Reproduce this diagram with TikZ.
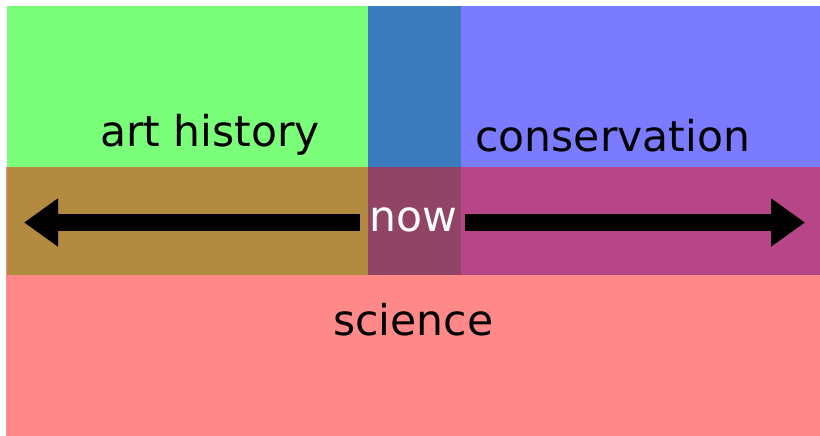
\documentclass[tikz,border=0pt]{standalone}
\usepackage{fontspec}
\setmainfont{DejaVu Sans}
\usetikzlibrary{arrows.meta}
\definecolor{cgreen}{RGB}{123,255,123}
\definecolor{csteel}{RGB}{59,123,190}
\definecolor{cviolet}{RGB}{123,123,255}
\definecolor{cbrown}{RGB}{179,139,64}
\definecolor{cmauve}{RGB}{146,68,102}
\definecolor{cmagenta}{RGB}{183,70,136}
\definecolor{cpink}{RGB}{255,136,136}
\tikzset{
  lbl/.style={anchor=base, inner sep=0pt, font=\fontsize{42.5}{51}\selectfont},
  bigarrow/.style={line width=17pt, -{Triangle[length=34pt,width=46pt]}}
}
\begin{document}
\begin{tikzpicture}[x=1pt,y=-1pt]
\useasboundingbox (0,0) rectangle (820,436);
\fill[white] (0,0) rectangle (820,436);
\fill[cpink] (6,167) rectangle (820,436);
\fill[cgreen] (7,6) rectangle (368,167);
\fill[csteel] (368,6) rectangle (461,167);
\fill[cviolet] (461,6) rectangle (820,167);
\fill[cbrown] (7,167) rectangle (368,275);
\fill[cmauve] (368,167) rectangle (461,275);
\fill[cmagenta] (461,167) rectangle (820,275);
\node[lbl] (art) at (210,146.7) {art history};
\node[lbl] (cons) at (612.8,151.7) {conservation};
\node[lbl] (sci) at (413.3,335) {science};
\node[lbl, text=white] (now) at (413.7,231.7) {now};
\coordinate (ls) at (360,222.5);
\coordinate (lt) at (24,222.5);
\coordinate (rs) at (465,222.5);
\coordinate (rt) at (805,222.5);
\draw[bigarrow] (ls) -- (lt);
\draw[bigarrow] (rs) -- (rt);
\end{tikzpicture}
\end{document}
